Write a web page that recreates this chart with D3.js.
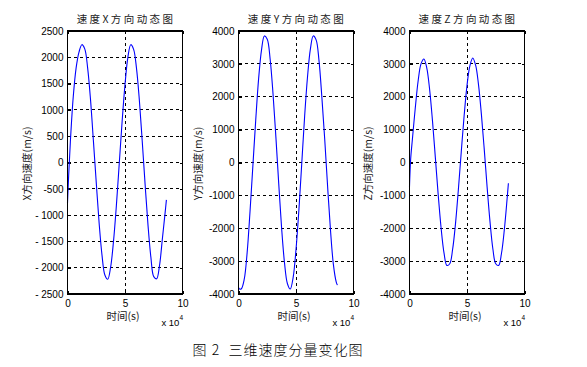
<!DOCTYPE html>
<html>
<head>
<meta charset="utf-8">
<script src="https://cdn.jsdelivr.net/npm/d3@7"></script>
<style>
  html, body { margin: 0; padding: 0; background: #fff; }
  svg { display: block; }
</style>
</head>
<body>
<script>
// ---- data (time in units of 10^4 s, velocity in m/s) ----
const timeSteps = [0, 0.1, 0.25, 0.5, 0.75, 1.0, 1.25, 1.5, 1.75, 2.0, 2.25, 2.5, 2.75, 3.0, 3.25, 3.5, 3.75, 4.0,
  4.25, 4.5, 4.75, 5.0, 5.25, 5.5, 5.75, 6.0, 6.25, 6.5, 6.75, 7.0, 7.25, 7.5, 7.75, 8.0, 8.25, 8.5, 8.6];

const velX = [-770, -250, 400, 1250, 1800, 2100, 2240, 2160, 1800, 1200, 420, -380, -1150, -1760, -2140, -2220, -1990, -1500,
  -820, -20, 780, 1480, 2000, 2240, 2150, 1790, 1180, 400, -420, -1190, -1800, -2170, -2210, -1960, -1450, -930, -710];

const velY = [-3800, -3850, -3840, -3550, -2750, -1500, -100, 1300, 2550, 3420, 3850, 3750, 3150, 2100, 780, -650, -2000, -3050,
  -3680, -3850, -3500, -2650, -1450, -30, 1400, 2600, 3450, 3850, 3730, 3100, 1980, 690, -740, -2060, -3100, -3640, -3730];

const velZ = [-735, 100, 700, 1650, 2480, 3000, 3150, 2880, 2220, 1260, 140, -1000, -2000, -2750, -3130, -3080, -2640, -1860,
  -820, 320, 1420, 2340, 2940, 3180, 2960, 2370, 1470, 400, -750, -1800, -2630, -3080, -3130, -2760, -2030, -1050, -630];

const xTicks = [0, 5, 10];
const xTickLabels = ["0", "5", "10"];

const yTicksX = [-2500, -2000, -1500, -1000, -500, 0, 500, 1000, 1500, 2000, 2500];
const yTickLabelsX = ["- 2500", "- 2000", "- 1500", "- 1000", "-500", "0", "500", "1000", "1500", "2000", "2500"];

const yTicksYZ = [-4000, -3000, -2000, -1000, 0, 1000, 2000, 3000, 4000];
const yTickLabelsYZ = ["-4000", "-3000", "-2000", "-1000", "0", "1000", "2000", "3000", "4000"];

const titles = ["速度X方向动态图", "速度Y方向动态图", "速度Z方向动态图"];
const yLabels = ["X方向速度(m/s)", "Y方向速度(m/s)", "Z方向速度(m/s)"];
const xLabel = "时间(s)";
const caption = "图 2  三维速度分量变化图";

// ---- layout ----
const W = 587, H = 367;
const panelLefts = [67.5, 238.5, 409.5];
const panelW = 115;
const plotTop = 31, plotBottom = 294;
const yLabelX = [27, 198, 368];

const panels = [
  { v: velX, ticks: yTicksX, labels: yTickLabelsX, dom: [-2500, 2500] },
  { v: velY, ticks: yTicksYZ, labels: yTickLabelsYZ, dom: [-4000, 4000] },
  { v: velZ, ticks: yTicksYZ, labels: yTickLabelsYZ, dom: [-4000, 4000] }
];

const svg = d3.select("body").append("svg")
  .attr("width", W).attr("height", H)
  .style("background", "#fff");

const tickFont = "'Liberation Sans', Arial, sans-serif";
const cjkFont = "'Noto Sans CJK SC', 'Liberation Sans', sans-serif";

panels.forEach((p, i) => {
  const L = panelLefts[i], R = L + panelW;
  const x = d3.scaleLinear().domain([0, 10]).range([L, R]);
  const y = d3.scaleLinear().domain(p.dom).range([plotBottom, plotTop]);
  const g = svg.append("g");

  // grid
  g.append("g").selectAll("line").data(xTicks.filter(d => d > 0 && d < 10)).join("line")
    .attr("x1", d => x(d)).attr("x2", d => x(d)).attr("y1", plotTop).attr("y2", plotBottom)
    .attr("stroke", "#000").attr("stroke-width", 1).attr("stroke-dasharray", "3,3")
    .attr("shape-rendering", "crispEdges");
  g.append("g").selectAll("line").data(p.ticks.filter(d => d > p.dom[0] && d < p.dom[1])).join("line")
    .attr("x1", L).attr("x2", R).attr("y1", d => y(d)).attr("y2", d => y(d))
    .attr("stroke", "#000").attr("stroke-width", 1).attr("stroke-dasharray", "3,3")
    .attr("shape-rendering", "crispEdges");

  // axes (ticks inward)
  const ax = (axis) => axis.tickSizeOuter(0);
  const bottomAxis = g.append("g").attr("transform", `translate(0,${plotBottom})`)
    .call(ax(d3.axisBottom(x).tickValues(xTicks).tickSize(-3).tickPadding(5.5)
      .tickFormat((d, k) => xTickLabels[k])));
  const topAxis = g.append("g").attr("transform", `translate(0,${plotTop})`)
    .call(ax(d3.axisTop(x).tickValues(xTicks).tickSize(-3).tickFormat("")));
  const leftAxis = g.append("g").attr("transform", `translate(${L},0)`)
    .call(ax(d3.axisLeft(y).tickValues(p.ticks).tickSize(-3).tickPadding(4)
      .tickFormat((d, k) => p.labels[k])));
  const rightAxis = g.append("g").attr("transform", `translate(${R},0)`)
    .call(ax(d3.axisRight(y).tickValues(p.ticks).tickSize(-3).tickFormat("")));
  [bottomAxis, topAxis, leftAxis, rightAxis].forEach(a => {
    a.select(".domain").remove();
    a.selectAll("line").attr("stroke", "#000").attr("shape-rendering", "crispEdges");
    a.selectAll("text").attr("fill", "#000").style("font-family", tickFont).style("font-size", "10px");
  });

  // line
  const line = d3.line()
    .x((d, k) => x(timeSteps[k]))
    .y(d => y(d))
    .curve(d3.curveCatmullRom.alpha(0.5));
  g.append("path").datum(p.v)
    .attr("d", line)
    .attr("fill", "none").attr("stroke", "#0000ff").attr("stroke-width", 1.1);

  // box
  g.append("rect").attr("x", L).attr("y", plotTop).attr("width", panelW).attr("height", plotBottom - plotTop)
    .attr("fill", "none").attr("stroke", "#000").attr("stroke-width", 1.2)
    .attr("shape-rendering", "crispEdges");

  // title
  g.append("text").attr("x", (L + R) / 2 + 1).attr("y", 23)
    .attr("text-anchor", "middle")
    .style("font-family", cjkFont).style("font-size", "10.5px").style("letter-spacing", "2.4px")
    .attr("fill", "#222").text(titles[i]);

  // y label
  g.append("text")
    .attr("transform", `translate(${yLabelX[i]},${(plotTop + plotBottom) / 2 + 1}) rotate(-90)`)
    .attr("text-anchor", "middle").attr("dy", "0.35em")
    .style("font-family", cjkFont).style("font-size", "10.5px")
    .attr("fill", "#222").text(yLabels[i]);

  // x label
  g.append("text").attr("x", (L + R) / 2 - 2).attr("y", 320)
    .attr("text-anchor", "middle")
    .style("font-family", cjkFont).style("font-size", "10.5px")
    .attr("fill", "#222").text(xLabel);

  // x 10^4 multiplier
  const m = g.append("text").attr("x", R + 0.5).attr("y", 326)
    .attr("text-anchor", "end")
    .style("font-family", tickFont).style("font-size", "9.5px").attr("fill", "#000");
  m.append("tspan").text("x 10");
  m.append("tspan").attr("dy", -6).style("font-size", "6.5px").text("4");
});

// caption
svg.append("text").attr("x", 278).attr("y", 355)
  .attr("text-anchor", "middle")
  .style("font-family", cjkFont).style("font-size", "14px").style("font-weight", "300")
  .style("letter-spacing", "1px")
  .attr("fill", "#000").style("white-space", "pre")
  .text(caption);
</script>
</body>
</html>
